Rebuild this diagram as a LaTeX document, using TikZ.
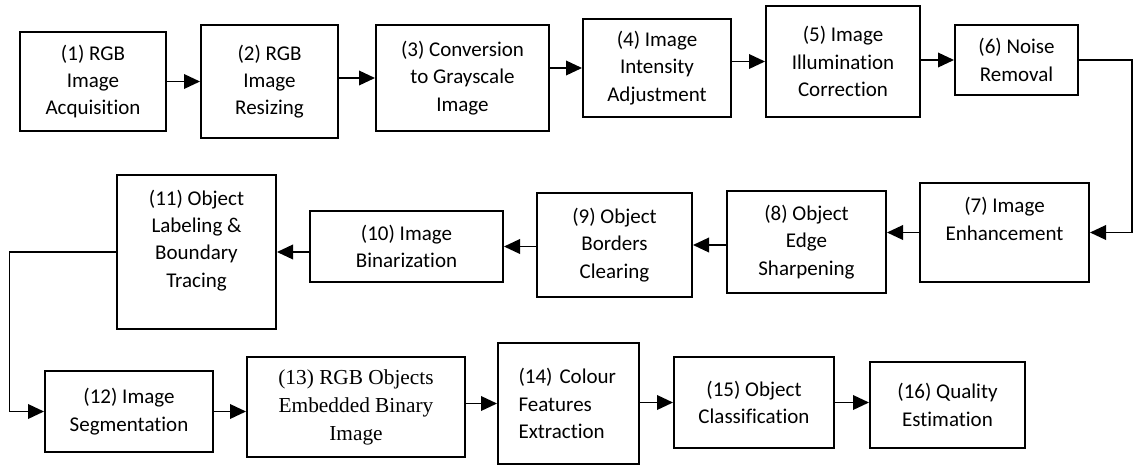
\documentclass[tikz,border=0pt]{standalone}
\usepackage{fontspec}
\setmainfont{Carlito}[Ligatures=NoCommon]
\newfontfamily\serifstage{Liberation Serif}
\usetikzlibrary{arrows.meta}

\tikzset{
  boxsize/.style n args={2}{minimum width=#1*0.75pt,minimum height=#2*0.75pt}
}

\begin{document}
\begin{tikzpicture}[
  x=0.75pt,y=-0.75pt,
  stage/.style={draw,line width=1.5pt,align=center,inner sep=2pt,
    font=\fontsize{15.75pt}{20.5pt}\selectfont},
  flow/.style={line width=1.1pt,-{Triangle[length=12pt,width=11pt]}}
]
  \useasboundingbox (0,0) rectangle (1134,468);

  \node[stage,boxsize={146}{99}] (S1) at (93,81.5) {(1) RGB\\Image\\Acquisition};
  \node[stage,boxsize={137}{113}] (S2) at (269.5,81.5) {(2) RGB\\Image\\Resizing};
  \node[stage,boxsize={173}{106}] (S3) at (462.5,78) {(3) Conversion\\to Grayscale\\Image};
  \node[stage,boxsize={148}{98}] (S4) at (657,68) {(4) Image\\Intensity\\Adjustment};
  \node[stage,boxsize={154}{111}] (S5) at (843,61.5) {(5) Image\\Illumination\\Correction};
  \node[stage,boxsize={123}{70}] (S6) at (1016.5,60) {(6) Noise\\Removal};

  \node[stage,boxsize={169}{99}] (S7) at (1004.5,232.5) {(7) Image\\Enhancement\\~};
  \node[stage,boxsize={159}{102}] (S8) at (806.5,242) {(8) Object\\Edge\\Sharpening};
  \node[stage,boxsize={155}{104}] (S9) at (614.5,245) {(9) Object\\Borders\\Clearing};
  \node[stage,boxsize={193}{71}] (S10) at (406.5,246.5) {(10) Image\\Binarization};
  \node[stage,boxsize={159}{154}] (S11) at (196.5,252) {(11) Object\\Labeling \&\\Boundary\\Tracing\\~};

  \node[stage,boxsize={168}{81}] (S12) at (129,411.5) {(12) Image\\Segmentation};
  \node[stage,boxsize={218}{100},font=\serifstage\fontsize{16pt}{21pt}\selectfont] (S13) at (356,407) {(13) RGB Objects\\Embedded Binary\\Image};
  \node[stage,boxsize={141}{121},text width=75pt,align=left] (S14) at (568.5,403.5) {(14) Colour\\Features\\Extraction};
  \node[stage,boxsize={160}{91}] (S15) at (754,402.5) {(15) Object\\Classification};
  \node[stage,boxsize={155}{86}] (S16) at (947.5,405) {(16) Quality\\Estimation};

  \coordinate (R) at (1132,60);
  \coordinate (L) at (9.3,252);

  \draw[flow] (S1.east |- S2.west) -- (S2.west);
  \draw[flow] (S2.east |- S3.west) -- (S3.west);
  \draw[flow] (S3.east |- S4.west) -- (S4.west);
  \draw[flow] (S4.east |- S5.west) -- (S5.west);
  \draw[flow] (S5.east |- S6.west) -- (S6.west);
  \draw[flow] (S6.east) -- (S6.east -| R) |- (S7.east);
  \draw[flow] (S7.west) -- (S7.west -| S8.east);
  \draw[flow] (S8.west |- S9.east) -- (S9.east);
  \draw[flow] (S9.west |- S10.east) -- (S10.east);
  \draw[flow] (S10.west |- S11.east) -- (S11.east);
  \draw[flow] (S11.west) -- (S11.west -| L) |- (S12.west);
  \draw[flow] (S12.east) -- (S12.east -| S13.west);
  \draw[flow] (S13.east |- S14.west) -- (S14.west);
  \draw[flow] (S14.east |- S15.west) -- (S15.west);
  \draw[flow] (S15.east) -- (S15.east -| S16.west);
\end{tikzpicture}
\end{document}
